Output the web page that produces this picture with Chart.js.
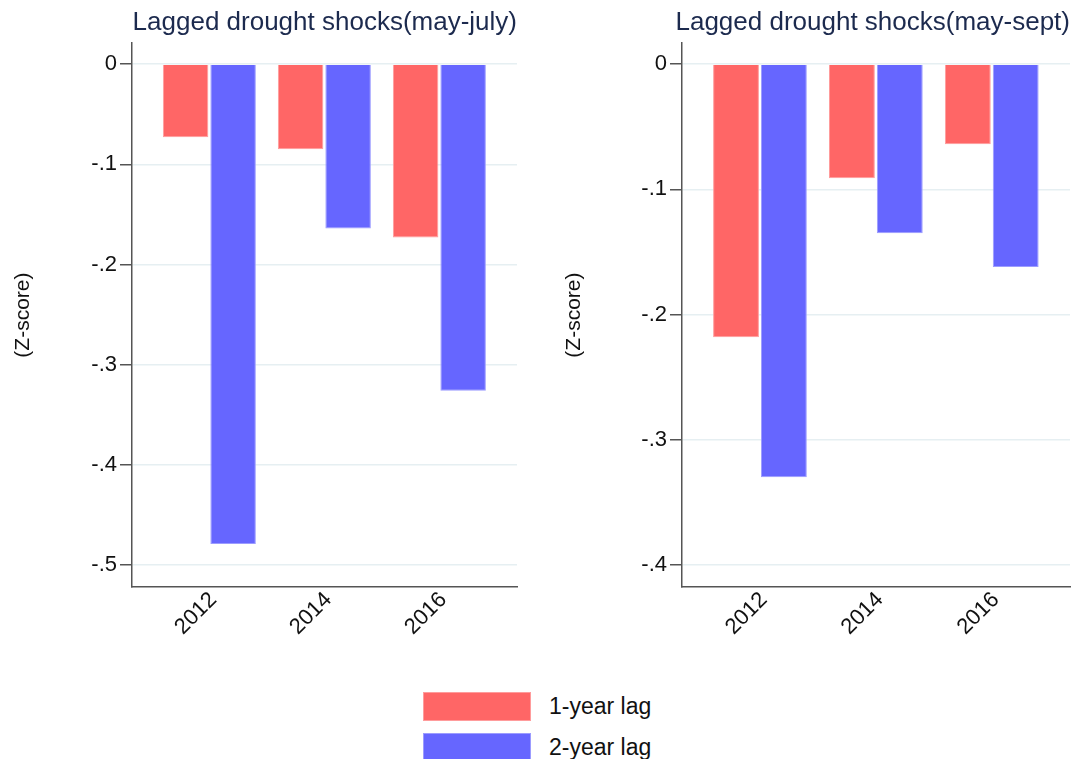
<!DOCTYPE html>
<html>
<head>
<meta charset="utf-8">
<script src="https://cdn.jsdelivr.net/npm/chart.js@4.4.1/dist/chart.umd.min.js"></script>
<style>
  html, body { margin: 0; padding: 0; background: #fff; }
  body { width: 1072px; height: 759px; position: relative; overflow: hidden; font-family: "Liberation Sans", Arial, sans-serif; }
  .panel { position: absolute; top: 0; width: 536px; height: 680px; }
  #legend { position: absolute; left: 423px; top: 692px; }
  .leg-row { display: flex; align-items: center; height: 29px; margin-bottom: 12px; }
  .leg-box { width: 106px; height: 27px; border: 1px solid; }
  .leg-text { margin-left: 18px; font-size: 23px; color: #111; }
</style>
</head>
<body>
<div class="panel" style="left:0"><canvas id="chartJuly"></canvas></div>
<div class="panel" style="left:536px"><canvas id="chartSept"></canvas></div>
<div id="legend"></div>

<script>
// ================================
//   DATI
// ================================
const anni = [2012, 2014, 2016];
const serieNomi = ["1-year lag", "2-year lag"];
const serieColori = ["#ff6666", "#6666ff"];
const serieBordi = ["#ff9c9c", "#9c9cff"];

// may-july
const lagJuly1 = [-0.073, -0.085, -0.173];
const lagJuly2 = [-0.479, -0.164, -0.326];
// may-sept
const lagSept1 = [-0.218, -0.091, -0.064];
const lagSept2 = [-0.330, -0.135, -0.162];

const tickJuly = [0, -0.1, -0.2, -0.3, -0.4, -0.5];
const tickSept = [0, -0.1, -0.2, -0.3, -0.4];

const FONT = "'Liberation Sans', Arial, sans-serif";

// formato stile Stata: -.1 invece di -0.1
function fmtZ(v) {
  if (Math.abs(v) < 1e-9) return "0";
  return v.toFixed(1).replace("0.", ".");
}

// ================================
//   CREA UN PANNELLO
// ================================
function createPanel(id, titolo, s1, s2, ticks, yMin, yMax, axisW, padRight, titlePad) {
  const ctx = document.getElementById(id);

  const datasets = [s1, s2].map((vals, i) => ({
    label: serieNomi[i],
    data: anni.map((a, j) => ({ x: a, y: vals[j] })),
    backgroundColor: serieColori[i],
    borderColor: serieBordi[i],
    borderWidth: 1,
    categoryPercentage: 0.826,
    barPercentage: 0.958
  }));

  return new Chart(ctx, {
    type: "bar",
    data: { datasets },
    options: {
      responsive: true,
      maintainAspectRatio: false,
      animation: false,
      layout: { padding: { left: 0, right: padRight, top: 0, bottom: 0 } },
      plugins: {
        legend: { display: false },
        tooltip: { enabled: false },
        title: {
          display: true,
          text: titolo,
          align: "end",
          color: "#1c2a4e",
          font: { family: FONT, size: 26, weight: "normal" },
          padding: { top: 7, bottom: 5 }
        }
      },
      scales: {
        x: {
          type: "linear",
          offset: false,
          min: 2010.655,
          max: 2017.35,
          grid: { display: false, drawTicks: false },
          border: { display: true, color: "#555", width: 1.5 },
          afterBuildTicks: (s) => { s.ticks = anni.map(v => ({ value: v })); },
          afterFit: (s) => { s.height = 93; },
          ticks: {
            autoSkip: false,
            minRotation: 45,
            maxRotation: 45,
            padding: 0,
            labelOffset: 4,
            color: "#111",
            font: { family: FONT, size: 22 },
            callback: (v) => String(v)
          }
        },
        y: {
          min: yMin,
          max: yMax,
          afterBuildTicks: (s) => { s.ticks = ticks.map(v => ({ value: v })); },
          afterFit: (s) => { s.width = axisW; },
          grid: { color: "#e6eff2", lineWidth: 1.5, tickColor: "#555", tickLength: 12, drawTicks: true },
          border: { display: true, color: "#555", width: 1.5 },
          title: {
            display: true,
            text: "(Z-score)",
            color: "#111",
            font: { family: FONT, size: 21 },
            padding: { top: titlePad, bottom: 0 }
          },
          ticks: {
            padding: 3,
            color: "#111",
            font: { family: FONT, size: 22 },
            callback: (v) => fmtZ(v)
          }
        }
      }
    }
  });
}

// ================================
//   LEGENDA
// ================================
function renderLegend() {
  const box = document.getElementById("legend");
  box.innerHTML = serieNomi.map((n, i) => `
    <div class="leg-row">
      <div class="leg-box" style="background:${serieColori[i]};border-color:${serieBordi[i]}"></div>
      <div class="leg-text">${n}</div>
    </div>`).join("");
}

createPanel("chartJuly", "Lagged drought shocks(may-july)", lagJuly1, lagJuly2, tickJuly, -0.522, 0.021, 132, 19, 11);
createPanel("chartSept", "Lagged drought shocks(may-sept)", lagSept1, lagSept2, tickSept, -0.4176, 0.0168, 146, 2, 26);
renderLegend();
</script>
</body>
</html>
